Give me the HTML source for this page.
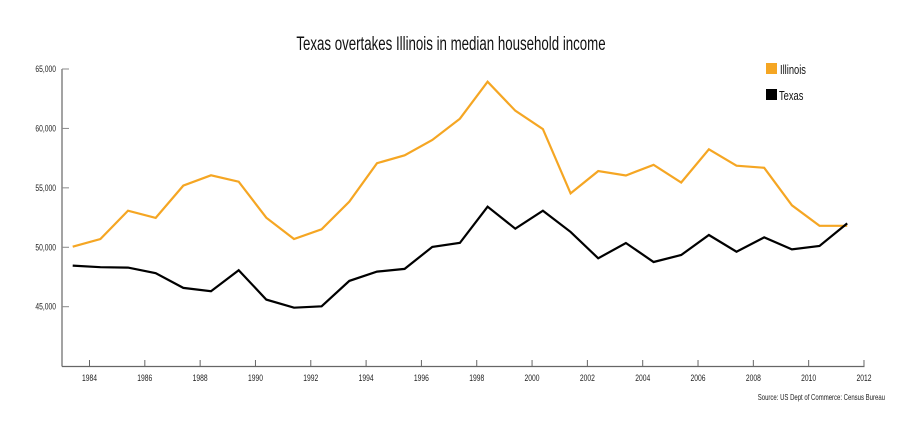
<!DOCTYPE html>
<html><head><meta charset="utf-8"><style>
html,body{margin:0;padding:0;background:#fff;}
svg{display:block;font-family:"Liberation Sans",sans-serif;}
</style></head><body>
<svg id="chart" width="910" height="423" viewBox="0 0 910 423">
<text x="451" y="50" text-anchor="middle" font-size="19" fill="#111" transform="translate(451 0) scale(0.7 1) translate(-451 0)">Texas overtakes Illinois in median household income</text>
<g id="axes"></g>
<g id="series"></g>
<g>
<rect x="766" y="63" width="11" height="11" fill="#f5a623"/>
<text x="780" y="74" font-size="13" fill="#111" transform="translate(780 0) scale(0.72 1) translate(-780 0)">Illinois</text>
<rect x="766" y="89" width="11" height="11" fill="#000"/>
<text x="779" y="100" font-size="13" fill="#111" transform="translate(779 0) scale(0.72 1) translate(-779 0)">Texas</text>
</g>
<text x="885" y="400" text-anchor="end" font-size="8" fill="#222" transform="translate(885 0) scale(0.75 1) translate(-885 0)">Source: US Dept of Commerce: Census Bureau</text>
</svg>
<script>
const years = [1984,1985,1986,1987,1988,1989,1990,1991,1992,1993,1994,1995,1996,1997,1998,1999,2000,2001,2002,2003,2004,2005,2006,2007,2008,2009,2010,2011,2012];
const illinois = [50050,50700,53080,52470,55190,56060,55520,52490,50700,51510,53840,57070,57740,59030,60820,63930,61490,59940,54530,56410,56040,56940,55450,58240,56860,56690,53530,51810,51810];
const texas = [48460,48320,48290,47820,46580,46300,48070,45600,44920,45030,47170,47950,48180,50030,50370,53410,51560,53080,51290,49070,50360,48760,49350,51030,49630,50830,49820,50110,52010];
const yTicks = [45000,50000,55000,60000,65000];
const xTicks = [1984,1986,1988,1990,1992,1994,1996,1998,2000,2002,2004,2006,2008,2010,2012];

const NS = "http://www.w3.org/2000/svg";
function xTick(yr){ return 89.5 + (yr-1984)*27.66; }
function xPoint(yr){ return xTick(yr) - 16.8; }
function yScale(v){ return 306.7 - (v-45000)*(237.7/20000); }
function mk(tag, attrs, parent){ const e=document.createElementNS(NS,tag); for(const k in attrs) e.setAttribute(k,attrs[k]); parent.appendChild(e); return e; }

const axes = document.getElementById('axes');
const yAxis = mk('line',{x1:62,y1:69,x2:62,y2:366.5,stroke:'#666','stroke-width':1.2},axes);


const xAxis = mk('line',{x1:62,y1:366.5,x2:864.5,y2:366.5,stroke:'#666','stroke-width':1.2},axes);


yTicks.forEach(v=>{
  const y=yScale(v);
  const t=mk('line',{x1:62,y1:y,x2:69,y2:y,stroke:'#888','stroke-width':1},axes);
  
  
  const l=mk('text',{x:56,y:y+3,'text-anchor':'end','font-size':9,fill:'#222',transform:`translate(56 0) scale(0.75 1) translate(-56 0)`},axes);
  l.textContent=v.toLocaleString('en-US');
  
  
});
xTicks.forEach(yr=>{
  const x=xTick(yr);
  const t=mk('line',{x1:x,y1:360,x2:x,y2:366.5,stroke:'#666','stroke-width':1},axes);
  
  
  const l=mk('text',{x:x,y:381,'text-anchor':'middle','font-size':9,fill:'#222',transform:`translate(${x} 0) scale(0.75 1) translate(${-x} 0)`},axes);
  l.textContent=yr;
  
  
});

const series = document.getElementById('series');
function line(vals,color,name){
  const d=vals.map((v,i)=>(i?'L':'M')+xPoint(years[i]).toFixed(1)+' '+yScale(v).toFixed(1)).join(' ');
  const p=mk('path',{d:d,fill:'none',stroke:color,'stroke-width':2.2,'stroke-linejoin':'miter'},series);
  
  
}
line(illinois,'#f5a623','illinois-line');
line(texas,'#000','texas-line');
</script>
</body></html>
